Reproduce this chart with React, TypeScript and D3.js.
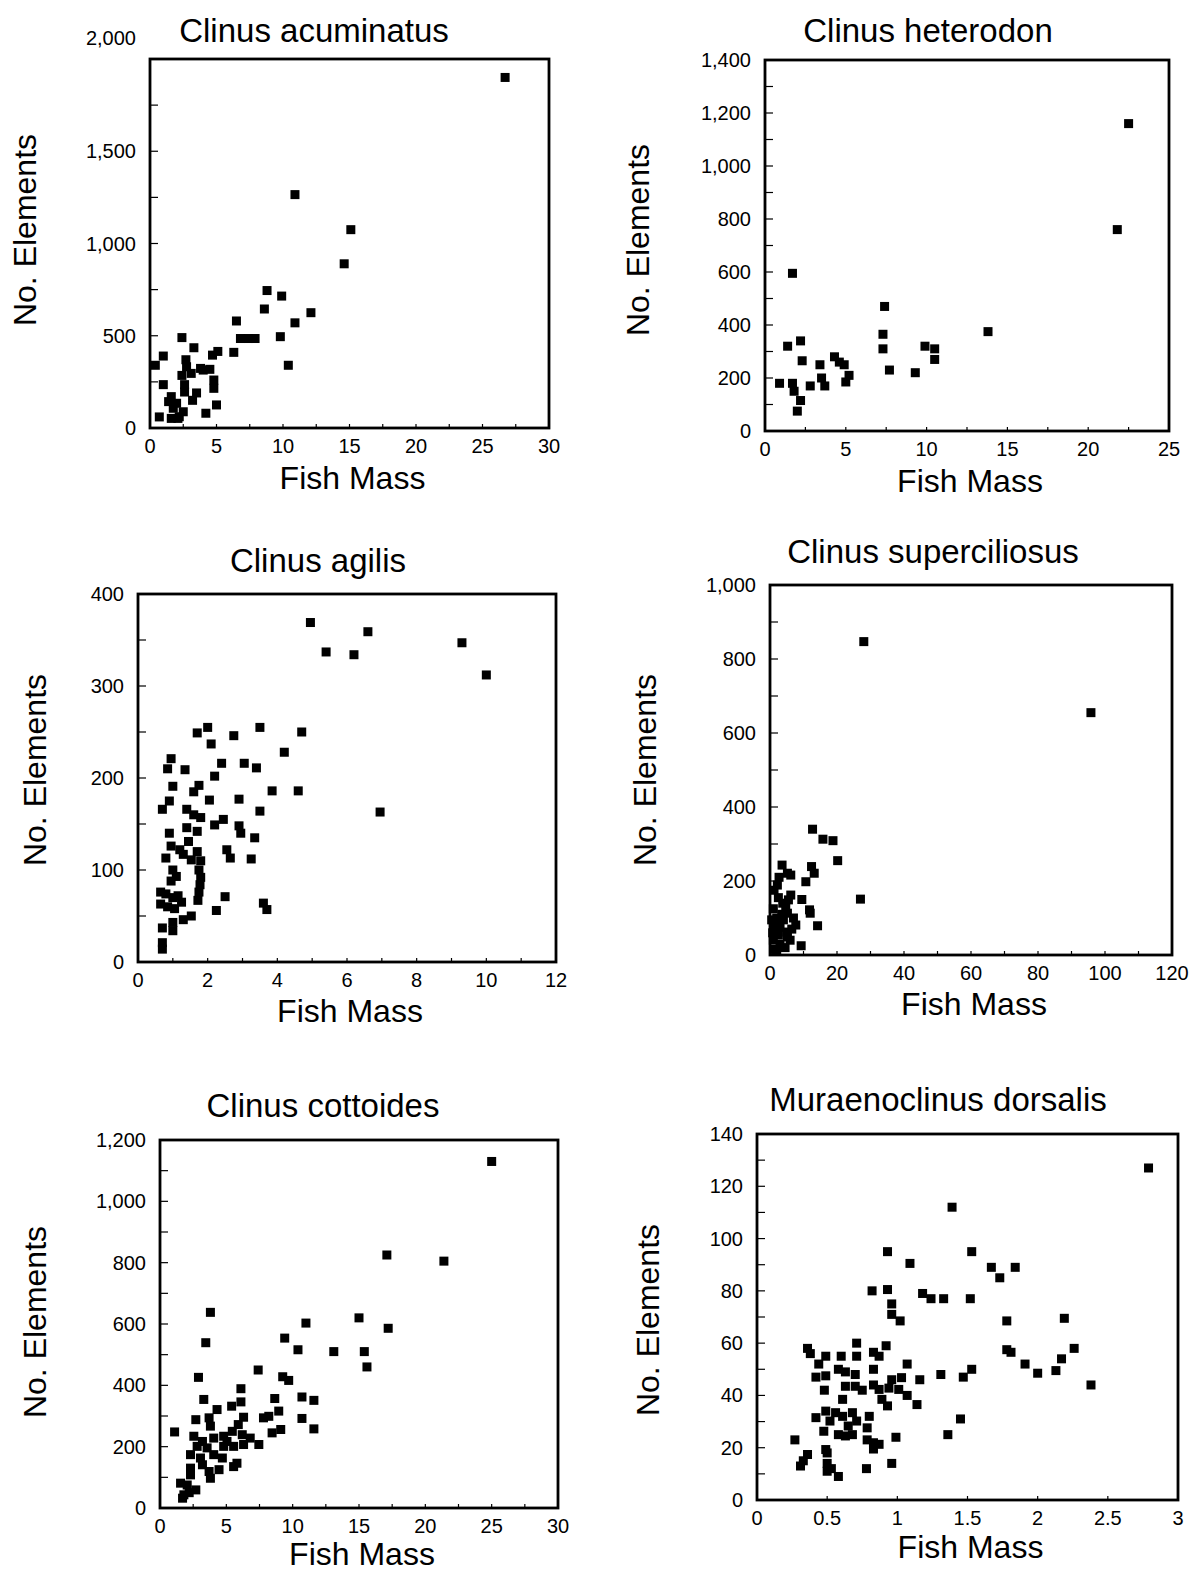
import * as d3 from "d3";
import { useEffect, useRef } from "react";

// Clinus acuminatus
const acuminatusMass = [26.7, 10.9, 15.1, 14.6, 8.8, 9.9, 8.6, 12.1, 10.9, 6.5, 6.8, 7.4, 7.9, 9.8, 10.4, 2.4, 3.3, 5.1, 4.7, 6.3, 1.0, 0.4, 2.7, 3.1, 4.0, 4.5, 4.8, 4.8, 2.4, 2.75, 1.0, 2.6, 2.6, 3.5, 3.2, 1.6, 1.4, 2.0, 1.75, 2.5, 1.6, 2.1, 0.7, 4.2, 5.0, 3.8, 2.2];
const acuminatusElements = [1900, 1265, 1075, 890, 745, 715, 645, 625, 570, 580, 485, 485, 485, 495, 340, 490, 435, 415, 395, 410, 390, 340, 370, 296, 314, 318, 260, 215, 285, 332, 235, 235, 195, 190, 150, 170, 143, 134, 107, 88, 52, 52, 60, 80, 125, 323, 61];

// Clinus heterodon
const heterodonMass = [22.5, 21.8, 1.7, 7.4, 13.8, 7.3, 7.3, 9.9, 10.5, 10.5, 7.7, 9.3, 1.4, 2.2, 2.3, 3.4, 4.3, 4.6, 4.9, 5.2, 5.0, 3.5, 3.7, 2.8, 0.9, 1.7, 1.8, 2.2, 2.0];
const heterodonElements = [1160, 760, 595, 470, 375, 365, 310, 320, 310, 270, 230, 220, 320, 340, 265, 250, 280, 260, 250, 210, 185, 200, 170, 170, 180, 180, 150, 115, 75];

// Clinus agilis
const agilisMass = [4.95, 6.6, 5.4, 6.2, 9.3, 10.0, 6.95, 4.7, 4.2, 4.6, 3.85, 3.5, 2.75, 2.0, 1.7, 2.1, 2.4, 3.05, 3.4, 2.2, 0.95, 0.85, 1.35, 1.0, 1.75, 1.6, 2.05, 2.9, 3.5, 0.9, 0.7, 1.4, 1.6, 1.8, 2.45, 2.2, 2.9, 2.95, 3.35, 0.9, 1.4, 1.7, 2.55, 2.65, 3.25, 0.95, 0.8, 1.2, 1.45, 1.7, 1.8, 1.53, 1.3, 1.0, 1.1, 0.95, 1.75, 1.8, 1.78, 1.75, 1.72, 0.65, 0.8, 1.0, 1.15, 0.65, 0.85, 1.05, 1.25, 1.53, 1.3, 1.0, 0.7, 1.0, 0.7, 0.7, 2.5, 2.25, 3.6, 3.7];
const agilisElements = [369, 359, 337, 334, 347, 312, 163, 250, 228, 186, 186, 255, 246, 255, 249, 237, 216, 216, 211, 202, 221, 210, 209, 191, 192, 185, 176, 177, 164, 175, 166, 166, 160, 157, 155, 149, 148, 140, 135, 140, 146, 142, 122, 113, 112, 126, 113, 122, 131, 120, 110, 111, 117, 100, 93, 88, 100, 92, 84, 76, 67, 76, 74, 70, 72, 63, 60, 58, 65, 50, 46, 43, 37, 34, 21, 14, 71, 56, 64, 57];

// Clinus superciliosus
const superciliosusMass = [28, 95.8, 12.7, 15.8, 18.8, 20.2, 27, 3.6, 12.4, 13.2, 10.7, 6.2, 2.7, 2.2, 5.2, 6.2, 9.5, 11.8, 12, 14.2, 7.7, 9.3, 5.2, 4.7, 5.2, 1, 2, 1.5, 3, 4, 2.5, 5, 1, 3, 4.5, 1.5, 6, 0.8, 3.5, 2, 0.5, 3.8, 7, 6.5, 2.5, 1.2, 5.5];
const superciliosusElements = [847, 655, 340, 313, 309, 255, 151, 243, 239, 221, 198, 216, 210, 189, 221, 162, 150, 122, 113, 79, 81, 25, 49, 130, 113, 125, 100, 80, 75, 95, 55, 62, 40, 30, 20, 15, 40, 60, 110, 10, 95, 140, 100, 70, 155, 175, 149];

// Clinus cottoides
const cottoidesMass = [25, 17.1, 21.4, 3.8, 15, 11, 17.2, 3.45, 9.4, 10.4, 13.1, 15.4, 15.6, 7.4, 2.9, 9.25, 9.7, 6.1, 3.3, 8.65, 10.7, 11.6, 6.1, 5.4, 4.3, 8.95, 10.7, 11.6, 6.3, 7.8, 8.2, 9.1, 8.45, 1.1, 2.7, 3.7, 3.8, 5.9, 2.55, 3.2, 4.05, 4.8, 5.45, 6.2, 6.8, 7.45, 6.3, 5.55, 5.05, 3.55, 2.8, 2.3, 3.05, 4.05, 4.7, 4.8, 5.55, 5.8, 3.7, 3.8, 3.2, 2.3, 2.3, 1.55, 2.05, 2.7, 1.8, 1.7, 2.2, 4.45];
const cottoidesElements = [1130, 825, 805, 638, 620, 603, 586, 539, 554, 516, 510, 510, 460, 450, 426, 428, 416, 389, 354, 357, 362, 351, 346, 332, 321, 316, 292, 258, 296, 294, 299, 256, 245, 248, 288, 294, 267, 272, 234, 217, 228, 234, 250, 239, 228, 207, 207, 201, 217, 196, 201, 174, 163, 174, 163, 201, 135, 146, 119, 97, 141, 130, 108, 81, 75, 59, 43, 32, 50, 125];

// Muraenoclinus dorsalis
const dorsalisMass = [2.79, 1.39, 0.93, 1.53, 1.09, 1.67, 1.84, 1.73, 0.82, 0.93, 1.18, 1.24, 1.33, 1.52, 0.96, 0.96, 1.02, 1.78, 2.19, 2.26, 2.17, 1.78, 1.81, 1.91, 2.0, 2.13, 2.38, 1.53, 1.47, 1.45, 1.36, 1.31, 1.16, 1.07, 1.07, 1.14, 0.99, 0.96, 0.78, 0.71, 0.71, 0.6, 0.49, 0.36, 0.38, 0.44, 0.92, 0.83, 0.87, 0.83, 0.42, 0.49, 0.58, 0.63, 0.7, 0.48, 0.63, 0.7, 0.75, 0.83, 0.87, 0.94, 1.01, 0.96, 1.03, 0.61, 0.89, 0.93, 0.42, 0.49, 0.56, 0.52, 0.61, 0.68, 0.71, 0.65, 0.785, 0.8, 0.476, 0.58, 0.63, 0.68, 0.785, 0.83, 0.87, 0.83, 0.27, 0.49, 0.5, 0.36, 0.33, 0.31, 0.5, 0.5, 0.58, 0.53];
const dorsalisElements = [127, 112, 95, 95, 90.5, 89, 89, 85, 80, 80.5, 79, 77, 77, 77, 75, 71, 68.5, 68.5, 69.5, 58, 54, 57.5, 56.5, 52, 48.5, 49.5, 44, 50, 47, 31, 25, 48, 46, 52, 40, 36.5, 24, 14, 12, 60, 55, 55, 55, 58, 56, 52, 59, 56.5, 55, 50, 47, 47.5, 50, 49, 48, 42, 43.5, 43.5, 42, 44, 42.3, 42.8, 42.3, 46, 46.8, 38.5, 38.5, 36, 31.5, 34, 33.4, 30.2, 32, 33.4, 30.2, 28.3, 27.6, 32, 26.3, 25, 24.5, 25, 23, 21.9, 21.3, 19.5, 23, 19.3, 18, 17.4, 15, 13, 14, 11, 9, 12];

const titles = ["Clinus acuminatus", "Clinus heterodon", "Clinus agilis", "Clinus superciliosus", "Clinus cottoides", "Muraenoclinus dorsalis"];
const massSeries = [acuminatusMass, heterodonMass, agilisMass, superciliosusMass, cottoidesMass, dorsalisMass];
const elementSeries = [acuminatusElements, heterodonElements, agilisElements, superciliosusElements, cottoidesElements, dorsalisElements];
// [max, tick step, label step]
const xAxes = [[30, 2.5, 5], [25, 2.5, 5], [12, 1, 2], [120, 10, 20], [30, 2.5, 5], [3, 0.5, 0.5]];
const yAxes = [[2000, 250, 500], [1400, 100, 200], [400, 50, 100], [1000, 100, 200], [1200, 100, 200], [140, 10, 20]];

// 各面板的位置
const frames = [
  { left: 150, right: 549, top: 59, bottom: 428, titleX: 314, titleY: 42, yTitleX: 25, yTitleY: 230, xTitleY: 489, topDy: -21 },
  { left: 765, right: 1169, top: 60, bottom: 431, titleX: 928, titleY: 42, yTitleX: 638, yTitleY: 240, xTitleY: 492, topDy: 0 },
  { left: 138, right: 556, top: 594, bottom: 962, titleX: 318, titleY: 572, yTitleX: 35, yTitleY: 770, xTitleY: 1022, topDy: 0 },
  { left: 770, right: 1172, top: 585, bottom: 955, titleX: 933, titleY: 563, yTitleX: 645, yTitleY: 770, xTitleY: 1015, topDy: 0 },
  { left: 160, right: 558, top: 1140, bottom: 1508, titleX: 323, titleY: 1117, yTitleX: 35, yTitleY: 1322, xTitleY: 1565, topDy: 0 },
  { left: 757, right: 1178, top: 1134, bottom: 1500, titleX: 938, titleY: 1111, yTitleX: 648, yTitleY: 1320, xTitleY: 1558, topDy: 0 },
];

const FONT = "'Liberation Sans', Arial, sans-serif";

function steps(max, step) {
  const n = Math.round(max / step);
  return d3.range(n + 1).map((i) => +(i * step).toFixed(4));
}

export default function App() {
  const ref = useRef(null);

  useEffect(() => {
    const svg = d3.select(ref.current);
    svg.selectAll("*").remove();

    frames.forEach((f, p) => {
      const [xMax, xStep, xLabelStep] = xAxes[p];
      const [yMax, yStep, yLabelStep] = yAxes[p];
      const x = d3.scaleLinear().domain([0, xMax]).range([f.left, f.right]);
      const y = d3.scaleLinear().domain([0, yMax]).range([f.bottom, f.top]);
      const g = svg.append("g");

      // 标题
      g.append("text")
        .attr("x", f.titleX)
        .attr("y", f.titleY)
        .attr("text-anchor", "middle")
        .style("font-family", FONT)
        .style("font-size", "33px")
        .text(titles[p]);

      // 坐标轴刻度
      g.append("g")
        .selectAll("line")
        .data(steps(yMax, yStep))
        .join("line")
        .attr("x1", f.left)
        .attr("x2", f.left + 8)
        .attr("y1", (d) => y(d))
        .attr("y2", (d) => y(d))
        .attr("stroke", "#000")
        .attr("stroke-width", 1.2);

      g.append("g")
        .selectAll("line")
        .data(steps(xMax, xStep))
        .join("line")
        .attr("x1", (d) => x(d))
        .attr("x2", (d) => x(d))
        .attr("y1", f.bottom)
        .attr("y2", f.bottom - 4)
        .attr("stroke", "#000")
        .attr("stroke-width", 1.2);

      const yLabels = steps(yMax, yLabelStep);
      g.append("g")
        .selectAll("text")
        .data(yLabels)
        .join("text")
        .attr("x", f.left - 14)
        .attr("y", (d, i) => y(d) + (i === yLabels.length - 1 ? f.topDy : 0))
        .attr("dy", "0.35em")
        .attr("text-anchor", "end")
        .style("font-family", FONT)
        .style("font-size", "20px")
        .text((d) => d3.format(",")(d));

      g.append("g")
        .selectAll("text")
        .data(steps(xMax, xLabelStep))
        .join("text")
        .attr("x", (d) => x(d))
        .attr("y", f.bottom + 25)
        .attr("text-anchor", "middle")
        .style("font-family", FONT)
        .style("font-size", "20px")
        .text((d) => String(d));

      // 轴标题
      g.append("text")
        .attr("x", (f.left + f.right) / 2 + 3)
        .attr("y", f.xTitleY)
        .attr("text-anchor", "middle")
        .style("font-family", FONT)
        .style("font-size", "32px")
        .text("Fish Mass");

      g.append("text")
        .attr("transform", `translate(${f.yTitleX},${f.yTitleY}) rotate(-90)`)
        .attr("dy", "0.35em")
        .attr("text-anchor", "middle")
        .style("font-family", FONT)
        .style("font-size", "32px")
        .text("No. Elements");

      // 散点
      const pts = massSeries[p].map((m, i) => [m, elementSeries[p][i]]);
      g.append("g")
        .selectAll("rect")
        .data(pts)
        .join("rect")
        .attr("x", (d) => x(d[0]) - 4.5)
        .attr("y", (d) => y(d[1]) - 4.5)
        .attr("width", 9)
        .attr("height", 9)
        .attr("fill", "#000");

      // 边框
      g.append("rect")
        .attr("x", f.left)
        .attr("y", f.top)
        .attr("width", f.right - f.left)
        .attr("height", f.bottom - f.top)
        .attr("fill", "none")
        .attr("stroke", "#000")
        .attr("stroke-width", 2.8);
    });
  }, []);

  return (
    <svg
      ref={ref}
      width={1194}
      height={1571}
      style={{ position: "absolute", left: 0, top: 0, background: "#fff" }}
    />
  );
}
